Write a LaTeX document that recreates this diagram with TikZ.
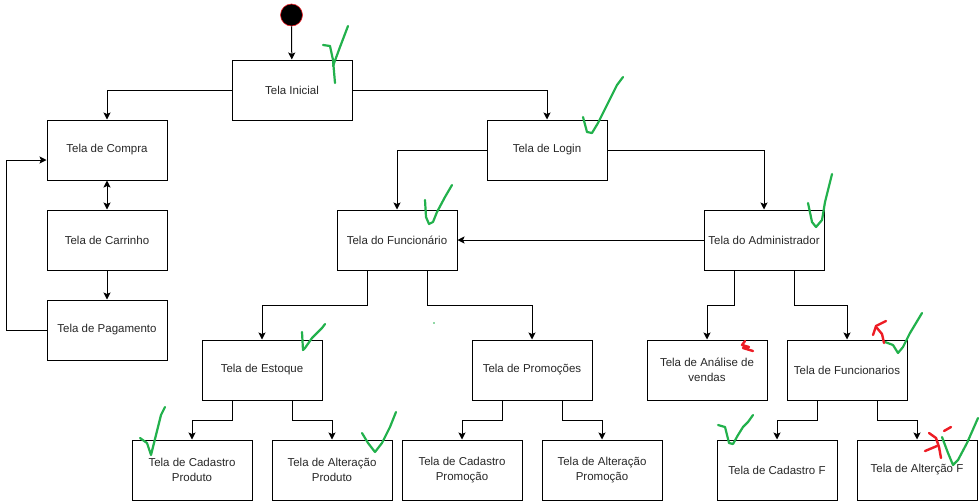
\documentclass[tikz,border=0pt]{standalone}
\usepackage{fontspec}
\setmainfont{Liberation Sans}
\usepackage{tikz}
\usetikzlibrary{arrows.meta, positioning, calc}
\definecolor{mydark}{RGB}{0,0,0}
\definecolor{mytext}{RGB}{40,40,40}
\definecolor{mygreen}{RGB}{34,177,76}
\definecolor{myred}{RGB}{237,28,36}
\tikzset{
  tela/.style={rectangle, draw=mydark, fill=white, text=mytext,
    minimum width=120pt, minimum height=60pt, align=center,
    font=\fontsize{11.5}{15}\selectfont, line width=1pt, inner sep=2pt},
  startnode/.style={circle, draw=myred, fill=black, minimum size=22pt,
    inner sep=0pt, line width=0.6pt},
  arrow/.style={-{Stealth[length=7pt, width=7pt, inset=1.5pt]}, line width=1pt, color=mydark},
  dblarrow/.style={{Stealth[length=7pt, width=7pt, inset=1.5pt]}-{Stealth[length=7pt, width=7pt, inset=1.5pt]}, line width=1pt, color=mydark},
  check/.style={draw=mygreen, line width=2.2pt, line cap=round, line join=round},
  redmark/.style={draw=myred, line width=2.4pt, line cap=round, line join=round}
}

\begin{document}
\begin{tikzpicture}[x=1pt, y=-1pt]
  \useasboundingbox (0,0) rectangle (979,501);

  % telas
  \node[startnode] (inicio) at (291.5,15) {};
  \node[tela] (inicial) at (292,90) {Tela Inicial};
  \node[tela] (compra) at (107,150) {Tela de Compra};
  \node[tela] (carrinho) at (107,240) {Tela de Carrinho};
  \node[tela] (pagamento) at (107,330) {Tela de Pagamento};
  \node[tela] (login) at (547,150) {Tela de Login};
  \node[tela] (func) at (397,240) {Tela do Funcionário};
  \node[tela] (admin) at (764,240) {Tela do Administrador};
  \node[tela] (estoque) at (262,370) {Tela de Estoque};
  \node[tela] (promo) at (532,370) {Tela de Promoções};
  \node[tela] (analise) at (707,370) {Tela de Análise de\\vendas};
  \node[tela] (funcs) at (847,370) {Tela de Funcionarios};
  \node[tela] (cadprod) at (192,470) {Tela de Cadastro\\Produto};
  \node[tela] (altprod) at (332,470) {Tela de Alteração\\Produto};
  \node[tela] (cadpromo) at (462,470) {Tela de Cadastro\\Promoção};
  \node[tela] (altpromo) at (602,470) {Tela de Alteração\\Promoção};
  \node[tela] (cadf) at (777,470) {Tela de Cadastro F};
  \node[tela] (altf) at (917,470) {Tela de Alterção F};

  % ligacoes
  \draw[arrow] (inicio) -- (inicial);
  \draw[arrow] (inicial.west) -| (compra.north);
  \draw[arrow] (inicial.east) -| (login.north);
  \draw[dblarrow] (compra) -- (carrinho);
  \draw[arrow] (carrinho) -- (pagamento);
  \draw[arrow] (pagamento.west) -- ++(-40,0) |- ([yshift=-10pt]compra.west);
  \draw[arrow] (login.west) -| (func.north);
  \draw[arrow] (login.east) -| (admin.north);
  \draw[arrow] (admin.west) -- (func.east);
  \draw[arrow] ([xshift=-30pt]func.south) -- ++(0,35) -| (estoque.north);
  \draw[arrow] ([xshift=30pt]func.south) -- ++(0,35) -| (promo.north);
  \draw[arrow] ([xshift=-30pt]admin.south) -- ++(0,35) -| (analise.north);
  \draw[arrow] ([xshift=30pt]admin.south) -- ++(0,35) -| (funcs.north);
  \draw[arrow] ([xshift=-30pt]estoque.south) -- ++(0,20) -| (cadprod.north);
  \draw[arrow] ([xshift=30pt]estoque.south) -- ++(0,20) -| (altprod.north);
  \draw[arrow] ([xshift=-30pt]promo.south) -- ++(0,20) -| (cadpromo.north);
  \draw[arrow] ([xshift=30pt]promo.south) -- ++(0,20) -| (altpromo.north);
  \draw[arrow] ([xshift=-30pt]funcs.south) -- ++(0,20) -| (cadf.north);
  \draw[arrow] ([xshift=30pt]funcs.south) -- ++(0,20) -| (altf.north);

  % marcas a mao
  \draw[check] (323,45) -- (330,46) -- (333,60) -- (335,83);
  \draw[check] (333,66) -- (340,47) -- (348,26);
  \draw[check] (583,117) -- (587,132) -- (592,133) -- (598,123) -- (608,103) -- (617,85) -- (623,77);
  \draw[check] (425,200) -- (426,217) -- (429,224) -- (433,222) -- (437,212) -- (445,197) -- (452,185);
  \draw[check] (808,203) -- (812,222) -- (816,227) -- (822,220) -- (825,202) -- (828,190) -- (832,174);
  \draw[check] (302,332) -- (303,350) -- (305,348) -- (312,338) -- (322,328) -- (325,324);
  \draw[check] (140,438) -- (147,443) -- (151,455) -- (153,447) -- (158,427) -- (161,415) -- (165,407);
  \draw[check] (362,433) -- (368,443) -- (375,452) -- (382,443) -- (390,427) -- (396,412);
  \draw[check] (885,342) -- (893,345) -- (898,353) -- (903,347) -- (910,333) -- (922,313);
  \draw[check] (718,425) -- (725,427) -- (729,443) -- (733,444) -- (738,435) -- (743,427) -- (748,422) -- (753,415);
  \draw[check] (942,437) -- (948,453) -- (953,465) -- (958,460) -- (967,443) -- (978,418);
  \fill[mygreen] (434,323) circle (0.9);
  \draw[redmark] (745,341) -- (742,345) -- (749,347) -- (743,348) -- (753,351);
  \draw[redmark] (873,335) -- (876,326) -- (886,321);
  \draw[redmark] (877,328) -- (882,334) -- (884,343);
  \draw[redmark] (929,433) -- (936,438) -- (939,447) -- (941,458);
  \draw[redmark] (925,451) -- (937,446);
  \draw[redmark] (944,431) -- (951,427);
\end{tikzpicture}
\end{document}
